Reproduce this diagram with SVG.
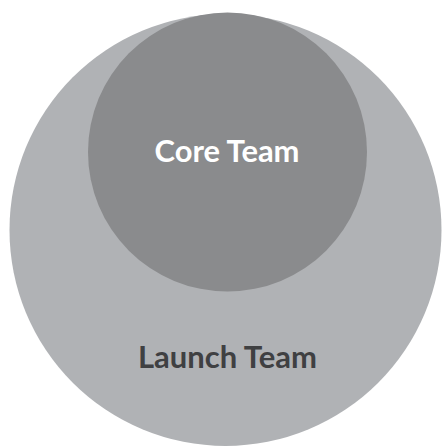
<svg xmlns="http://www.w3.org/2000/svg" width="442" height="446" viewBox="0 0 442 446">
  <style>
    .label { font-family: "Lato", "Liberation Sans", sans-serif; font-weight: bold; text-anchor: middle; }
  </style>
  <rect width="442" height="446" fill="#ffffff"/>
  <g id="launch-team">
    <circle cx="225.5" cy="230" r="216" fill="#b0b2b5"/>
    <text class="label" x="227.5" y="368" font-size="31" fill="#3f4042" textLength="179" lengthAdjust="spacingAndGlyphs">Launch Team</text>
  </g>
  <g id="core-team">
    <circle cx="227.5" cy="152" r="139.5" fill="#8a8b8d"/>
    <text class="label" x="227" y="162" font-size="31" fill="#ffffff" textLength="145" lengthAdjust="spacingAndGlyphs">Core Team</text>
  </g>
  <g id="connectors"/>
</svg>
